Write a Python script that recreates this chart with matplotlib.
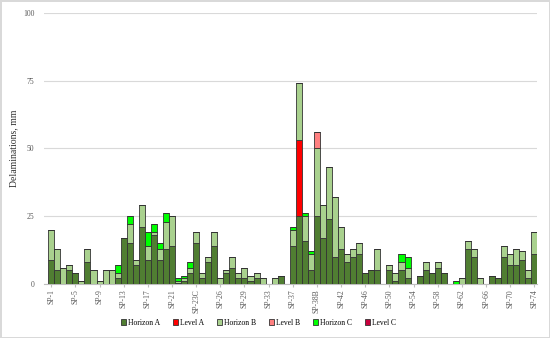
import numpy as np
import matplotlib.pyplot as plt
from matplotlib.patches import Patch

# Categories (81 samples)
samples = (["SP-%d" % i for i in range(1, 23)]
           + ["SP-23A", "SP-23B", "SP-23C", "SP-23D", "SP-24", "SP-25", "SP-26",
              "SP-27", "SP-28", "SP-28A", "SP-29", "SP-30", "SP-31", "SP-32", "SP-33",
              "SP-34", "SP-35", "SP-36", "SP-37", "SP-37A", "SP-38", "SP-38A", "SP-38B"]
           + ["SP-%d" % i for i in range(39, 75)])

# Values, mm
horizon_a = [9, 5, 0, 5, 4, 0, 8, 0, 0, 0, 0, 2, 17, 15, 7, 21, 9, 18, 9, 13,
             14, 0.5, 1, 4, 15, 2, 8, 14, 0, 4, 6, 2, 2, 1, 2, 0, 0, 0, 3, 0,
             14, 25, 16, 5, 25, 17, 24, 10, 13, 8, 10, 11, 4, 5, 5, 0, 5, 1, 5, 2,
             0, 3, 5, 4, 6, 4, 0, 0, 0, 13, 10, 0, 0, 3, 2, 10, 7, 7, 9, 2, 11]
level_a = [0] * 41 + [28] + [0] * 39
horizon_b = [11, 8, 6, 2, 0, 1, 5, 5, 1, 5, 5, 2, 0, 7, 2, 8, 5, 1, 4, 10,
             11, 0.5, 1, 2, 4, 2, 2, 5, 2, 1, 4, 2, 4, 2, 2, 2, 0, 2, 0, 0,
             6, 21, 9, 6, 25, 12, 19, 22, 8, 3, 3, 4, 0, 0, 8, 0, 2, 3, 3, 4,
             0, 0, 3, 0, 2, 0, 0, 0, 2, 3, 3, 2, 0, 0, 0, 4, 4, 6, 3, 3, 8]
level_b = [0] * 44 + [6] + [0] * 36
horizon_c = [0, 0, 0, 0, 0, 0, 0, 0, 0, 0, 0, 3, 0, 3, 0, 0, 5, 3, 2, 3,
             0, 1, 1, 2, 0, 0, 0, 0, 0, 0, 0, 0, 0, 0, 0, 0, 0, 0, 0, 0,
             1, 0, 1, 1, 0, 0, 0, 0, 0, 0, 0, 0, 0, 0, 0, 0, 0, 0, 3, 4,
             0, 0, 0, 0, 0, 0, 0, 1, 0, 0, 0, 0, 0, 0, 0, 0, 0, 0, 0, 0, 0]
level_c = [0] * 81

series = [("Horizon A", horizon_a, "#507e32"),
          ("Level A", level_a, "#ff0000"),
          ("Horizon B", horizon_b, "#a9d18e"),
          ("Level B", level_b, "#ff8080"),
          ("Horizon C", horizon_c, "#00ff00"),
          ("Level C", level_c, "#c8003c")]

plt.rcParams['font.family'] = ['Liberation Serif', 'DejaVu Serif']

fig = plt.figure(figsize=(5.5, 3.38), dpi=100)
fig.patch.set_edgecolor("#d9d9d9")
fig.patch.set_linewidth(1.0)
ax = fig.add_axes([0.08, 0.16, 0.897, 0.802])

x = np.arange(len(samples))
bottom = np.zeros(len(samples))
for name, vals, color in series:
    vals = np.array(vals, dtype=float)
    ax.bar(x, vals, width=1.0, bottom=bottom, color=color,
           edgecolor="#333333", linewidth=0.6, label=name, zorder=3)
    bottom += vals

ax.set_xlim(-1.2, len(samples) - 0.5)
ax.set_ylim(0, 100)
ax.set_yticks([0, 25, 50, 75, 100])
ax.grid(axis='y', color="#d9d9d9", linewidth=0.8, zorder=0)
ax.set_xticks(x[::4])
ax.set_xticklabels(samples[::4], rotation=90, fontsize=5.5, color="#595959")
ax.tick_params(axis='y', labelsize=5.5, labelcolor="#595959", length=0, pad=7)
ax.tick_params(axis='x', length=2, color="#bfbfbf", pad=2)
for s in ["top", "right", "left"]:
    ax.spines[s].set_visible(False)
ax.spines["bottom"].set_color("#bfbfbf")

ax.set_ylabel("Delaminations, mm", fontsize=7, color="#333333", labelpad=3)

handles = [Patch(facecolor=c, edgecolor="#333333", linewidth=0.6, label=n) for n, _, c in series]
fig.legend(handles=handles, loc="center", bbox_to_anchor=(0.47, 0.045), ncol=6,
           frameon=False, fontsize=5.5, handlelength=0.7, handleheight=0.7,
           handletextpad=0.3, columnspacing=1.6)

fig.savefig("out.png", dpi=100)
